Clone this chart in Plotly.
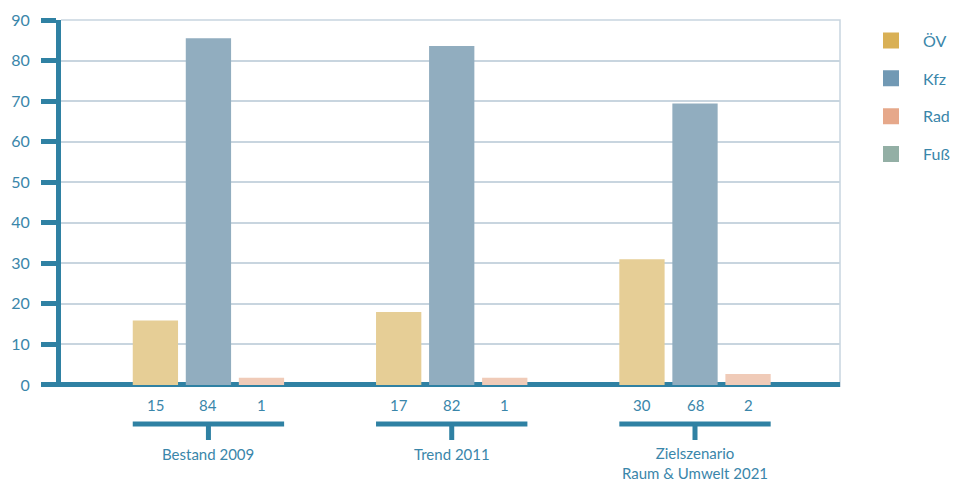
import plotly.graph_objects as go

# ---------------- data ----------------
groups = ["Bestand 2009", "Trend 2011", "Zielszenario<br>Raum & Umwelt 2021"]
series = ["ÖV", "Kfz", "Rad", "Fuß"]
# printed shares (%) below each bar
labels_oev = [15, 17, 30]
labels_kfz = [84, 82, 68]
labels_rad = [1, 1, 2]
# bar heights as drawn in the picture
bars_oev = [15.9, 18.0, 31.0]
bars_kfz = [85.5, 83.6, 69.4]
bars_rad = [1.8, 1.8, 2.7]
y_ticks = [0, 10, 20, 30, 40, 50, 60, 70, 80, 90]

# ---------------- style ----------------
TEAL = "#2f81a3"
TXT = "#3a86aa"
GRID = "#c8d5df"
bar_cols = ["#e6ce96", "#91adbf", "#f0cbb8"]
leg_cols = ["#d9b055", "#7199b4", "#e6a88a", "#93afa5"]
FONT = "Lato"

BARGAP = 0.346
GROUPGAP = 0.146
slot = (1 - BARGAP) / 3
bw = slot * (1 - GROUPGAP)

x = list(range(len(groups)))
fig = go.Figure()
for vals, col in zip([bars_oev, bars_kfz, bars_rad], bar_cols):
    fig.add_trace(go.Bar(x=x, y=vals, marker=dict(color=col, line=dict(width=0)),
                         showlegend=False, hoverinfo="skip"))

# legend-only entries (square markers)
for i, (name, col) in enumerate(zip(series, leg_cols)):
    fig.add_trace(go.Scatter(x=[None], y=[None], mode="markers", name=name,
                             legendgroup=f"g{i}",
                             marker=dict(symbol="square", size=16, color=col)))

# P(py) -> paper coordinate (plot bottom at 387 px, height 367 px)
def P(py):
    return (387 - py) / 367

annotations = []
shapes = []
for gi, g in enumerate(groups):
    for si, lab in enumerate([labels_oev[gi], labels_kfz[gi], labels_rad[gi]]):
        annotations.append(dict(x=gi + (si - 1) * slot, y=P(405), xref="x", yref="paper",
                                text=str(lab), showarrow=False, yanchor="middle",
                                font=dict(size=15, color=TXT, family=FONT)))
    two = "<br>" in g
    annotations.append(dict(x=gi, y=P(462.5 if two else 454), xref="x", yref="paper",
                            text=g, showarrow=False, yanchor="middle",
                            font=dict(size=15, color=TXT, family=FONT)))
    shapes.append(dict(type="line", xref="x", yref="paper",
                       x0=gi - slot - bw / 2, x1=gi + slot + bw / 2,
                       y0=P(424), y1=P(424), line=dict(color=TEAL, width=5)))
    shapes.append(dict(type="line", xref="x", yref="paper",
                       x0=gi, x1=gi, y0=P(424), y1=P(440),
                       line=dict(color=TEAL, width=5)))

# top and right frame
shapes.append(dict(type="path", xref="paper", yref="paper", path="M0,1 L1,1 L1,0",
                   line=dict(color=GRID, width=1.5), layer="below"))

fig.update_layout(
    width=957, height=484,
    margin=dict(l=61, r=117, t=20, b=97, autoexpand=False),
    paper_bgcolor="white", plot_bgcolor="white",
    barmode="group", bargap=BARGAP, bargroupgap=GROUPGAP,
    font=dict(family=FONT, color=TXT),
    showlegend=True,
    legend=dict(x=0.0244 + 1, y=0.99, xanchor="left", yanchor="top",
                font=dict(size=16, color=TXT, family=FONT),
                traceorder="grouped", tracegroupgap=14, itemwidth=54,
                bgcolor="rgba(0,0,0,0)"),
    annotations=annotations, shapes=shapes,
)
fig.update_xaxes(range=[-0.606, 2.596], showticklabels=False, ticks="",
                 showgrid=False, zeroline=False, showline=False, fixedrange=True)
fig.update_yaxes(range=[-0.5, 90], tickvals=y_ticks, ticks="outside", ticklen=15,
                 tickwidth=5, tickcolor=TEAL, showline=True, linewidth=5, linecolor=TEAL,
                 zeroline=True, zerolinecolor=TEAL, zerolinewidth=5,
                 showgrid=True, gridcolor=GRID, gridwidth=1.5,
                 tickfont=dict(size=16, color=TXT, family=FONT), ticklabelstandoff=8)

fig.write_html("out.html")
